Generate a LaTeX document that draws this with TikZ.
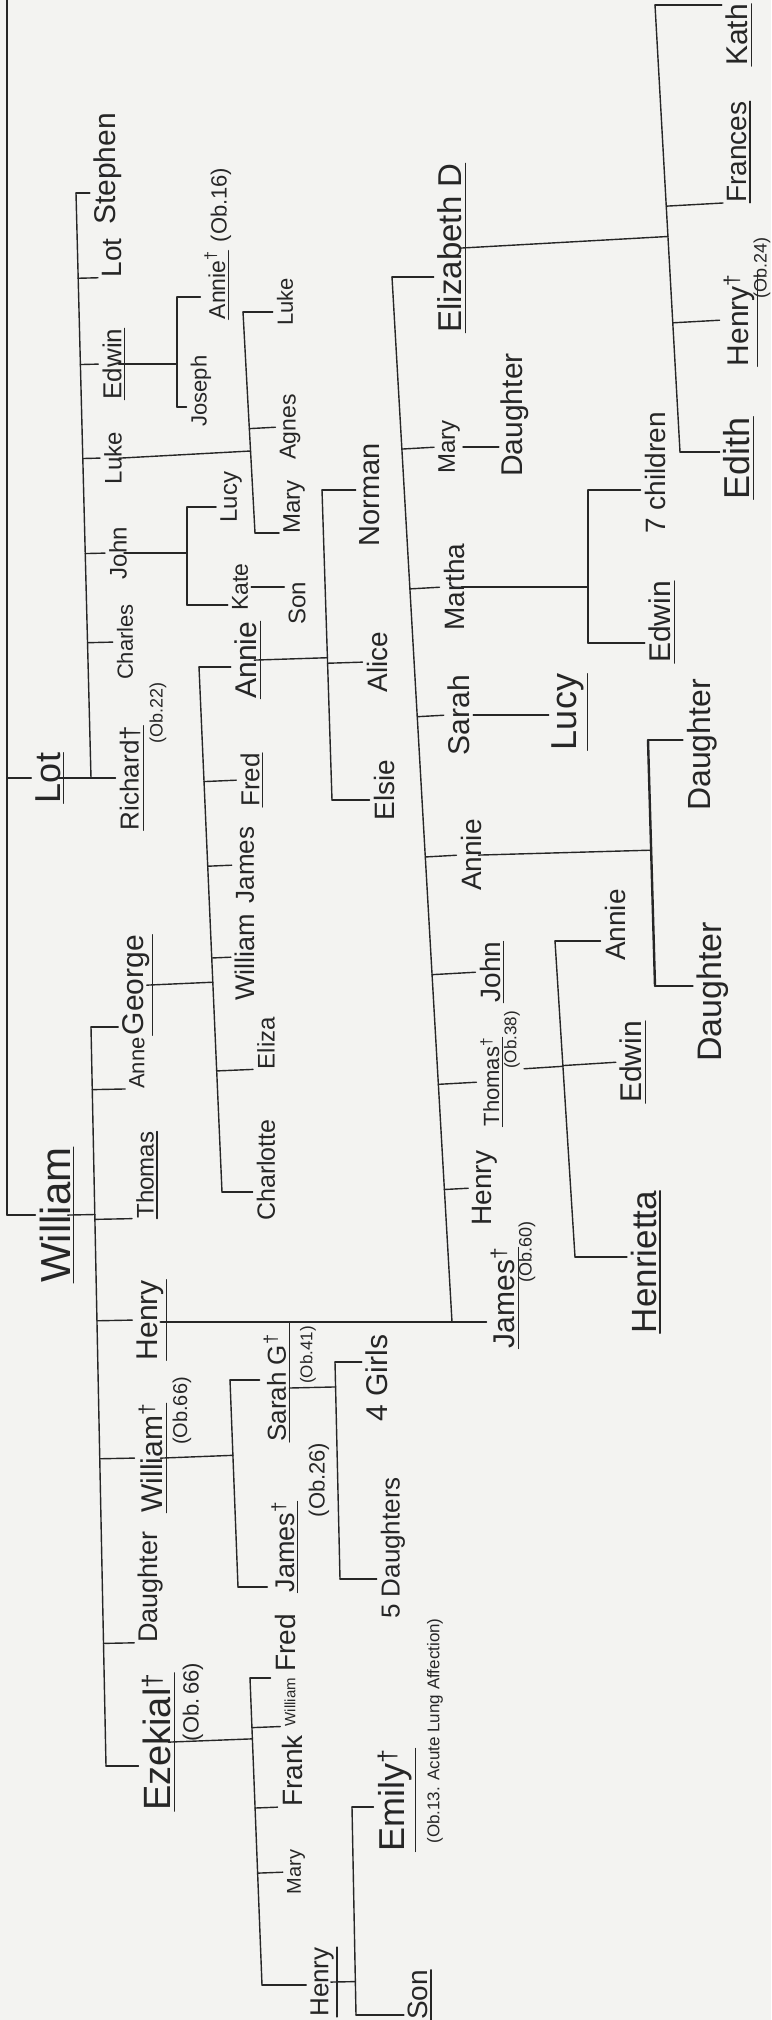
\documentclass[tikz,border=0pt]{standalone}
\usepackage{fontspec}
\setmainfont{Liberation Sans}
\usepackage{tikz}
\usetikzlibrary{calc}
\definecolor{ink}{RGB}{38,38,38}
\definecolor{paper}{RGB}{243,243,241}
\tikzset{
  nm/.style={rotate=90,inner sep=0pt,text=ink,font=\fontsize{#1}{#1}\selectfont},
  nm/.default=24,
  wire/.style={draw=ink,line width=1.4pt,line cap=round},
  heavy/.style={draw=ink,line width=2.4pt,line cap=round},
  tk/.style={wire,shorten >=4pt},
  jn/.style={wire,shorten >=-3pt},
}
\newcommand{\tkend}[2]{\draw[tk] (#1) -- (#1 -| #2.north);}
\newcommand{\tkmid}[3]{\draw[tk] ($(#1)!(#3)!(#2)$) -- (#3);}
\newcommand{\tkjoin}[3]{\draw[jn] ($(#1)!(#3)!(#2)$) -- (#3);}

\begin{document}
\begin{tikzpicture}[x=1pt,y=-1pt]
  \useasboundingbox (0,0) rectangle (771,2020);
  \fill[paper] (0,0) rectangle (771,2020);

  \node[nm=36](lotA) at (48,778){Lot};
  \node[nm=42](willA) at (55,1215){William};

  \node[nm=30](stephen) at (108,169){Stephen}; \node[nm=28](lotB) at (112,258){Lot};
  \node[nm=26](edwinB) at (112,364){Edwin}; \node[nm=24](lukeB) at (113,458){Luke};
  \node[nm=24](johnB) at (118,553){John}; \node[nm=22](charles) at (125,642){Charles};
  \node[nm=26](richard) at (130,778){Richard†}; \node[nm=18](obRichard) at (158,713){(Ob.22)};
  \node[nm=23](annieL) at (215,285){Annie\textsuperscript{†}}; \node[nm=22](obAnnieL) at (221,205){(Ob.16)};
  \node[nm=22](joseph) at (201,391){Joseph};
  \node[nm=22](lukeC) at (285,302){Luke}; \node[nm=23](agnes) at (290,427){Agnes};
  \node[nm=24](maryC) at (294,507){Mary};
  \node[nm=24](lucyC) at (231,497){Lucy}; \node[nm=23](kate) at (240,587){Kate};
  \node[nm=24](sonK) at (297,603){Son};

  \node[nm=30](george) at (136,985){George}; \node[nm=22](anne) at (137,1063){Anne};
  \node[nm=24](thomasC) at (145,1175){Thomas}; \node[nm=30](henryC) at (150,1320){Henry};
  \node[nm=30](williamC) at (151,1458){William\textsuperscript{†}}; \node[nm=20](obWilliamC) at (182,1411){(Ob.66)};
  \node[nm=27](daughterC) at (151,1587){Daughter};
  \node[nm=38](ezekial) at (157,1742){Ezekial\textsuperscript{†}}; \node[nm=22](obEzekial) at (193,1702){(Ob.\,66)};

  \node[nm=30](annieG) at (246,660){Annie}; \node[nm=26](fredG) at (250,780){Fred};
  \node[nm=26](jamesG) at (245,865){James}; \node[nm=27](williamG) at (245,957){William};
  \node[nm=24](eliza) at (266,1043){Eliza}; \node[nm=25](charlotte) at (266,1170){Charlotte};
  \node[nm=29](norman) at (370,495){Norman}; \node[nm=28](alice) at (377,662){Alice};
  \node[nm=28](elsie) at (384,790){Elsie};

  \node[nm=33](elizabeth) at (450,248){Elizabeth D}; \node[nm=24](maryD) at (449,447){Mary};
  \node[nm=28](martha) at (454,587){Martha}; \node[nm=30](sarahD) at (459,715){Sarah};
  \node[nm=28](annieD) at (471,855){Annie}; \node[nm=28](johnD) at (490,972){John};
  \node[nm=22](thomasD) at (490,1082){Thomas\textsuperscript{†}}; \node[nm=17](obThomas) at (512,1040){(Ob.38)};
  \node[nm=28](henryD) at (485,1188){Henry};
  \node[nm=30](jamesD) at (503,1298){James\textsuperscript{†}}; \node[nm=18](obJamesD) at (527,1252){(Ob.60)};
  \node[nm=30](daughterM) at (515,415){Daughter};

  \node[nm=30](kath) at (737,35){Kath}; \node[nm=28](frances) at (737,152){Frances};
  \node[nm=30](henryEl) at (739,320){Henry\textsuperscript{†}}; \node[nm=18](obHenryEl) at (762,268){(Ob.24)};
  \node[nm=36](edith) at (737,458){Edith};
  \node[nm=28](children7) at (655,473){7 children}; \node[nm=30](edwinM) at (660,622){Edwin};
  \node[nm=36](lucyS) at (568,712){Lucy};
  \node[nm=32](daughterA) at (702,745){Daughter}; \node[nm=34](daughterB) at (713,992){Daughter};
  \node[nm=28](annieT) at (615,925){Annie}; \node[nm=30](edwinT) at (631,1062){Edwin};
  \node[nm=35](henrietta) at (644,1262){Henrietta};

  \node[nm=26](sarahW) at (275,1388){Sarah G\textsuperscript{†}}; \node[nm=17](obSarah) at (308,1355){(Ob.41)};
  \node[nm=27](jamesW) at (283,1547){James\textsuperscript{†}}; \node[nm=22](obJamesW) at (319,1480){(Ob.26)};
  \node[nm=30](girls) at (377,1378){4 Girls}; \node[nm=26](daughtersF) at (393,1548){5 Daughters};

  \node[nm=28](fredE) at (285,1643){Fred}; \node[nm=15](williamE) at (290,1702){William};
  \node[nm=28](frank) at (292,1771){Frank}; \node[nm=20](maryE) at (296,1872){Mary};
  \node[nm=26](henryE) at (322,1982){Henry};
  \node[nm=36](emily) at (395,1800){Emily\textsuperscript{†}};
  \node[nm=17](obEmily) at (435,1731){(Ob.13. Acute Lung Affection)};
  \node[nm=28](sonE) at (418,1995){Son};

  \coordinate (L0a) at (7,-5); \coordinate (L0b) at (7,1215);
  \coordinate (L1a) at (76,193); \coordinate (L1b) at (91,778);
  \coordinate (LEa) at (177,297); \coordinate (LEb) at (177,407);
  \coordinate (LLa) at (243,312); \coordinate (LLb) at (255,533);
  \coordinate (LJa) at (187,507); \coordinate (LJb) at (187,605);
  \coordinate (LWa) at (91,1027); \coordinate (LWb) at (106,1766);
  \coordinate (LGa) at (199,667); \coordinate (LGb) at (222,1192);
  \coordinate (LAa) at (322,490); \coordinate (LAb) at (332,800);
  \coordinate (LHa) at (392,277); \coordinate (LHb) at (452,1322);
  \coordinate (LEla) at (655,5); \coordinate (LElb) at (680,452);
  \coordinate (LMa) at (588,490); \coordinate (LMb) at (588,643);
  \coordinate (LDa) at (648,740); \coordinate (LDb) at (655,986);
  \coordinate (LTa) at (555,941); \coordinate (LTb) at (575,1257);
  \coordinate (LWma) at (230,1380); \coordinate (LWmb) at (238,1587);
  \coordinate (LSa) at (335,1362); \coordinate (LSb) at (340,1579);
  \coordinate (LEza) at (250,1678); \coordinate (LEzb) at (262,1985);
  \coordinate (LHza) at (352,1807); \coordinate (LHzb) at (356,2015);

  \foreach \a/\b in {L0a/L0b,L1a/L1b,LEa/LEb,LLa/LLb,LJa/LJb,LWa/LWb,LGa/LGb,LAa/LAb,LHa/LHb,
    LEla/LElb,LMa/LMb,LTa/LTb,LWma/LWmb,LSa/LSb,LEza/LEzb,LHza/LHzb}
    {\draw[wire] (\a) -- (\b);}
  \draw[heavy] (LDa) -- (LDb);

  \tkmid{L0a}{L0b}{lotA.north} \tkend{L0b}{willA}
  \tkend{L1a}{stephen} \tkmid{L1a}{L1b}{lotB.north west} \tkmid{L1a}{L1b}{edwinB.north}
  \tkmid{L1a}{L1b}{lukeB.north} \tkmid{L1a}{L1b}{johnB.north} \tkmid{L1a}{L1b}{charles.north}
  \tkend{L1b}{richard} \draw[jn] (L1b) -- (L1b -| lotA.south);
  \tkend{LEa}{annieL} \tkend{LEb}{joseph} \tkjoin{LEa}{LEb}{edwinB.south}
  \tkend{LLa}{lukeC} \tkmid{LLa}{LLb}{agnes.north} \tkend{LLb}{maryC} \tkjoin{LLa}{LLb}{lukeB.south}
  \tkend{LJa}{lucyC} \tkend{LJb}{kate} \tkjoin{LJa}{LJb}{johnB.south}
  \draw[wire,shorten <=3pt,shorten >=4pt] (kate.south) -- (kate.south -| sonK.north);

  \tkend{LWa}{george} \tkmid{LWa}{LWb}{anne.north west} \tkmid{LWa}{LWb}{thomasC.north west}
  \tkmid{LWa}{LWb}{henryC.north} \tkmid{LWa}{LWb}{williamC.north} \tkmid{LWa}{LWb}{daughterC.north west}
  \tkend{LWb}{ezekial} \tkjoin{LWa}{LWb}{willA.south}
  \tkend{LGa}{annieG} \tkmid{LGa}{LGb}{fredG.north} \tkmid{LGa}{LGb}{jamesG.north}
  \tkmid{LGa}{LGb}{williamG.north} \tkmid{LGa}{LGb}{eliza.north west} \tkend{LGb}{charlotte}
  \tkjoin{LGa}{LGb}{george.south}
  \tkend{LAa}{norman} \tkmid{LAa}{LAb}{alice.north} \tkend{LAb}{elsie} \tkjoin{LAa}{LAb}{annieG.south}

  \tkend{LHa}{elizabeth} \tkmid{LHa}{LHb}{maryD.north} \tkmid{LHa}{LHb}{martha.north}
  \tkmid{LHa}{LHb}{sarahD.north} \tkmid{LHa}{LHb}{annieD.north} \tkmid{LHa}{LHb}{johnD.north}
  \tkmid{LHa}{LHb}{thomasD.north} \tkmid{LHa}{LHb}{henryD.north} \tkend{LHb}{jamesD}
  \draw[heavy,shorten >=-3pt] (LHb) -- (LHb -| henryC.south);
  \tkend{LEla}{kath} \tkmid{LEla}{LElb}{frances.north west} \tkmid{LEla}{LElb}{henryEl.north}
  \tkend{LElb}{edith} \tkjoin{LEla}{LElb}{elizabeth.south}
  \draw[wire,shorten <=3pt,shorten >=2pt] (maryD.south) -- (maryD.south -| daughterM.north);
  \tkend{LMa}{children7} \tkend{LMb}{edwinM} \tkjoin{LMa}{LMb}{martha.south}
  \draw[wire,shorten <=3pt,shorten >=3pt] (sarahD.south) -- (sarahD.south -| lucyS.north);
  \tkend{LDa}{daughterA} \tkend{LDb}{daughterB} \tkjoin{LDa}{LDb}{annieD.south}
  \tkend{LTa}{annieT} \tkmid{LTa}{LTb}{edwinT.north} \tkend{LTb}{henrietta}
  \tkmid{LTa}{LTb}{obThomas.south west}

  \tkend{LWma}{sarahW} \tkend{LWmb}{jamesW} \tkjoin{LWma}{LWmb}{williamC.south}
  \coordinate (sU) at ([xshift=3pt]sarahW.south);
  \draw[wire] ([xshift=3pt]sarahW.south west) -- (sU |- LHb);
  \draw[wire] (sU) -- ($(LSa)!(sU)!(LSb)$);
  \tkend{LSa}{girls} \tkend{LSb}{daughtersF}
  \tkend{LEza}{fredE} \tkmid{LEza}{LEzb}{williamE.north west} \tkmid{LEza}{LEzb}{frank.north west}
  \tkmid{LEza}{LEzb}{maryE.north} \tkend{LEzb}{henryE} \tkjoin{LEza}{LEzb}{ezekial.south}
  \tkend{LHza}{emily} \tkend{LHzb}{sonE} \tkjoin{LHza}{LHzb}{henryE.south}

  \foreach \n in {lotA,willA,edwinB,richard,annieL,annieG,fredG,george,thomasC,henryC,williamC,
    ezekial,elizabeth,johnD,thomasD,jamesD,kath,frances,henryEl,edith,edwinM,lucyS,edwinT,
    henrietta,jamesW,emily,henryE,sonE}
    {\draw[wire] ([xshift=3pt]\n.south west) -- ([xshift=3pt]\n.south east);}
\end{tikzpicture}
\end{document}
